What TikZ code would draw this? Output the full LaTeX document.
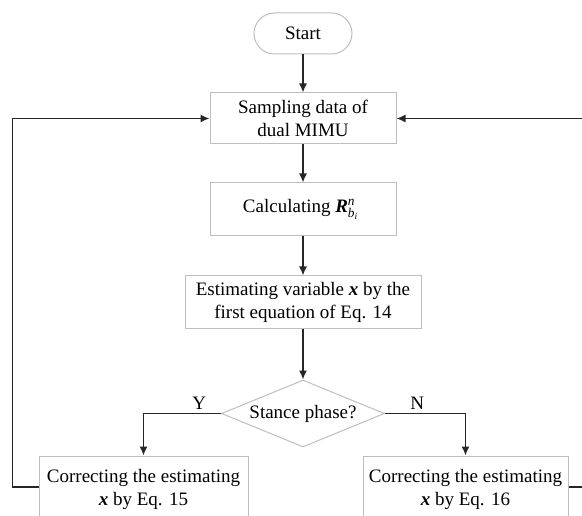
\documentclass[tikz,border=0pt]{standalone}
\usepackage{amsmath}
\usepackage{fontspec}
\setmainfont{Liberation Serif}
\usetikzlibrary{arrows.meta, positioning, shapes.geometric, shapes.misc}
\definecolor{boxgray}{HTML}{BEBEBE}
\definecolor{linegray}{HTML}{262626}

\begin{document}
\begin{tikzpicture}[
    font=\fontsize{19}{23}\selectfont,
    flowbox/.style={draw=boxgray, line width=1pt, align=center, inner sep=3pt},
    flowline/.style={draw=linegray, line width=1.5pt, -{Latex[length=9pt, width=8pt]}}
]
    \useasboundingbox (0,0) rectangle (582pt,-516pt);
    \clip (0,0) rectangle (582pt,-516pt);

    % Start
    \node[flowbox, rounded rectangle, minimum width=104pt, minimum height=41pt] (start) at (303pt,-33.5pt) {Start};

    % Sampling box
    \node[flowbox, minimum width=186pt, minimum height=51pt, below=38pt of start] (samp) {
        Sampling data of\\dual MIMU
    };

    % Calculating box
    \node[flowbox, minimum width=186pt, minimum height=53pt, below=38pt of samp] (calc) {
        Calculating $\textbf{\textit{R}}^{\textit{n}}_{\textit{b}_{\textit{i}}}$
    };

    % Estimating box
    \node[flowbox, minimum width=236pt, minimum height=53pt, below=39pt of calc] (est) {
        Estimating variable \textbf{\textit{x}} by the\\first equation of Eq. 14
    };

    % Stance decision
    \node[flowbox, diamond, aspect=2.4, inner sep=0pt, minimum width=163pt, minimum height=67pt,
          below=50pt of est] (dec) {Stance phase?};

    % Correcting boxes
    \node[flowbox, minimum width=209pt, minimum height=66pt] (corrY) at (143.5pt,-489pt) {
        Correcting the estimating\\\textbf{\textit{x}} by Eq. 15
    };
    \node[flowbox, minimum width=205pt, minimum height=66pt] (corrN) at (465.5pt,-489pt) {
        Correcting the estimating\\\textbf{\textit{x}} by Eq. 16
    };

    % main flow
    \draw[flowline] (start) -- (samp);
    \draw[flowline] (samp) -- (calc);
    \draw[flowline] (calc) -- (est);
    \draw[flowline] (est) -- (dec);
    \draw[flowline] (dec.west) -| (corrY.north) node[pos=0.14, above] {Y};
    \draw[flowline] (dec.east) -| (corrN.north) node[pos=0.2, above] {N};

    % feedback loops
    \draw[flowline] (corrY.west) ++(0,2pt) -- ++(-26pt,0) |- (samp.west);
    \draw[flowline] (corrN.east) ++(0,2pt) -- ++(27pt,0) |- (samp.east);
\end{tikzpicture}
\end{document}
